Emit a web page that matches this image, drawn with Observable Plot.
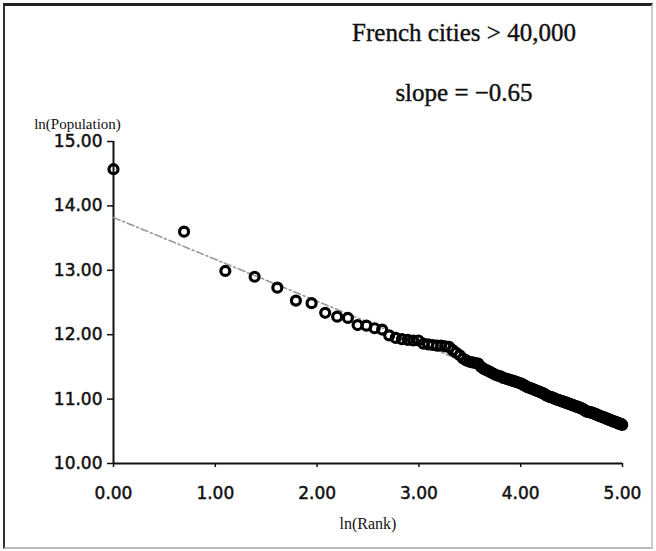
<!DOCTYPE html>
<html>
<head>
<meta charset="utf-8">
<script src="https://cdn.jsdelivr.net/npm/d3@7"></script>
<script src="https://cdn.jsdelivr.net/npm/@observablehq/plot@0.6"></script>
<style>
  html, body { margin: 0; padding: 0; background: #fff; }
  #wrap { position: relative; width: 656px; height: 551px; overflow: hidden; background: #fff; }
  #frame { position: absolute; left: 3px; top: 3px; width: 646px; height: 541px;
           border-top: 3px solid #222; border-left: 2px solid #333;
           border-right: 2px solid #ccc; border-bottom: 2px solid #bbb; }
  #chart { position: absolute; left: 0; top: 0; }
  #chart g[aria-label$="tick label"] text { stroke: #111; stroke-width: 0.5px; }
</style>
</head>
<body>
<div id="wrap"><div id="frame"></div><div id="chart"></div></div>
<script>
// ln(Population) of French cities > 40,000, ordered by rank (rank 1 first)
const lnPop = [
  14.57, 13.60, 12.99, 12.90, 12.73, 12.53, 12.49, 12.34, 12.28, 12.26,
  12.15, 12.14, 12.10, 12.08, 11.99, 11.95, 11.93, 11.92, 11.91, 11.91,
  11.86, 11.85, 11.84, 11.83, 11.83, 11.82, 11.81, 11.76, 11.72, 11.68,
  11.63, 11.60, 11.58, 11.57, 11.56, 11.55, 11.50, 11.47, 11.45, 11.43,
  11.41, 11.39, 11.37, 11.36, 11.35, 11.33, 11.32, 11.31, 11.30, 11.29,
  11.28, 11.27, 11.26, 11.25, 11.24, 11.22, 11.21, 11.19, 11.18, 11.17,
  11.16, 11.15, 11.14, 11.13, 11.12, 11.11, 11.10, 11.09, 11.08, 11.06,
  11.05, 11.04, 11.03, 11.03, 11.02, 11.01, 11.00, 10.99, 10.99, 10.98,
  10.97, 10.97, 10.96, 10.95, 10.95, 10.94, 10.93, 10.93, 10.92, 10.91,
  10.91, 10.90, 10.89, 10.89, 10.88, 10.88, 10.87, 10.86, 10.86, 10.85,
  10.84, 10.83, 10.82, 10.81, 10.81, 10.80, 10.80, 10.80, 10.79, 10.79,
  10.78, 10.78, 10.77, 10.77, 10.76, 10.75, 10.75, 10.74, 10.74, 10.73,
  10.73, 10.72, 10.72, 10.71, 10.71, 10.70, 10.70, 10.69, 10.69, 10.68,
  10.68, 10.67, 10.67, 10.66, 10.66, 10.65, 10.65, 10.65, 10.64, 10.64,
  10.63, 10.63, 10.62, 10.62, 10.62, 10.61, 10.61, 10.60
];
const ranks = lnPop.map((_, i) => i + 1);

// fitted trend line (slope = -0.65)
const trendLnRank = [0, 5];
const trendLnPop = [13.82, 10.57];

const xTicks = [0, 1, 2, 3, 4, 5];
const yTicks = [10, 11, 12, 13, 14, 15];

const titleText = "French cities > 40,000";
const slopeText = "slope = \u22120.65";
const xLabel = "ln(Rank)";
const yLabel = "ln(Population)";

const points = ranks.map((r, i) => ({x: Math.log(r), y: lnPop[i]}));
const trend = trendLnRank.map((x, i) => ({x, y: trendLnPop[i]}));
const fmt = d3.format(".2f");

const chart = Plot.plot({
  width: 656,
  height: 551,
  marginLeft: 113,
  marginRight: 34,
  marginTop: 141,
  marginBottom: 88,
  style: {background: "transparent", color: "#111", overflow: "visible"},
  x: {domain: [0, 5], ticks: xTicks, tickFormat: fmt, label: null},
  y: {domain: [10, 15], ticks: yTicks, tickFormat: fmt, label: null},
  marks: [
    Plot.axisX({ticks: xTicks, tickFormat: fmt, tickSize: 4, tickPadding: 19, label: null,
      fontSize: 17, fontFamily: "DejaVu Sans", strokeWidth: 1.5}),
    Plot.axisY({ticks: yTicks, tickFormat: fmt, tickSize: 6, tickPadding: 5, label: null,
      fontSize: 17, fontFamily: "DejaVu Sans", strokeWidth: 1.5}),
    Plot.ruleX([0], {stroke: "#111", strokeWidth: 2}),
    Plot.ruleY([10], {stroke: "#111", strokeWidth: 2}),
    Plot.line(trend, {x: "x", y: "y", stroke: "#999", strokeWidth: 1.6,
      strokeDasharray: "7,3,2,3"}),
    Plot.dot(points, {x: "x", y: "y", r: 4.5, stroke: "#000", strokeWidth: 3.2, fill: "none"}),
    Plot.text([titleText], {frameAnchor: "top", dx: 96, dy: -109, lineAnchor: "middle",
      fontSize: 25, fontFamily: "Liberation Serif", fill: "#111", stroke: "#111", strokeWidth: 0.4}),
    Plot.text([slopeText], {frameAnchor: "top", dx: 96, dy: -49, lineAnchor: "middle",
      fontSize: 25, fontFamily: "Liberation Serif", fill: "#111", stroke: "#111", strokeWidth: 0.4}),
    Plot.text([yLabel], {frameAnchor: "top-left", dx: -36, dy: -17, textAnchor: "middle",
      lineAnchor: "middle", fontSize: 15, fontFamily: "Liberation Serif", fill: "#111"}),
    Plot.text([xLabel], {frameAnchor: "bottom", dy: 60, lineAnchor: "middle",
      fontSize: 16, fontFamily: "Liberation Serif", fill: "#111"})
  ]
});
document.getElementById("chart").appendChild(chart);
</script>
</body>
</html>
